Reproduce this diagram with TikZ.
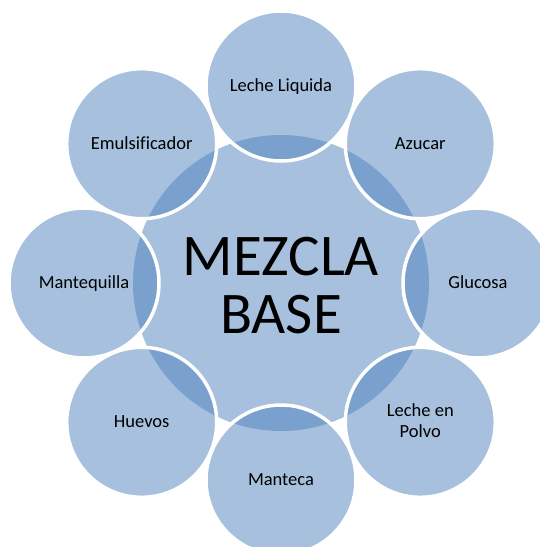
\documentclass[tikz,border=0pt]{standalone}
\usepackage{fontspec}
\setmainfont[Ligatures=NoCommon]{Carlito}
\definecolor{accent}{RGB}{79,129,189}
\tikzset{
  hub/.style={circle, minimum size=296pt, inner sep=0pt, fill=accent, fill opacity=0.5, text opacity=1,
    font=\fontsize{59}{58}\selectfont, text height=101.4pt, text depth=0pt},
  petal/.style={circle, minimum size=150pt, inner sep=0pt, draw=white, line width=3.5pt, draw opacity=1,
    fill=accent, fill opacity=0.5, text opacity=1, text=black,
    font=\fontsize{18.5}{21}\selectfont, text height=11.2pt, text depth=0pt},
  twoline/.style={text height=30.8pt}
}
\begin{document}
\begin{tikzpicture}[x=1pt,y=-1pt]
\useasboundingbox (0,0) rectangle (540,547);
\clip (0,0) rectangle (540,547);
\setlength{\tabcolsep}{0pt}
\node[hub] (hub) at (281,283) {\begin{tabular}[b]{c}MEZCLA\\BASE\end{tabular}};
\node[petal] (leche) at (281,86) {Leche Liquida};
\node[petal] (azucar) at (420.3,143.7) {Azucar};
\node[petal] (glucosa) at (478,283) {Glucosa};
\node[petal,twoline] (polvo) at (420.3,422.3) {\begin{tabular}[b]{c}Leche en\\Polvo\end{tabular}};
\node[petal] (manteca) at (281,480) {Manteca};
\node[petal] (huevos) at (141.7,422.3) {Huevos};
\node[petal] (mantequilla) at (84,283) {Mantequilla};
\node[petal] (emul) at (141.7,143.7) {Emulsificador};
\end{tikzpicture}
\end{document}
